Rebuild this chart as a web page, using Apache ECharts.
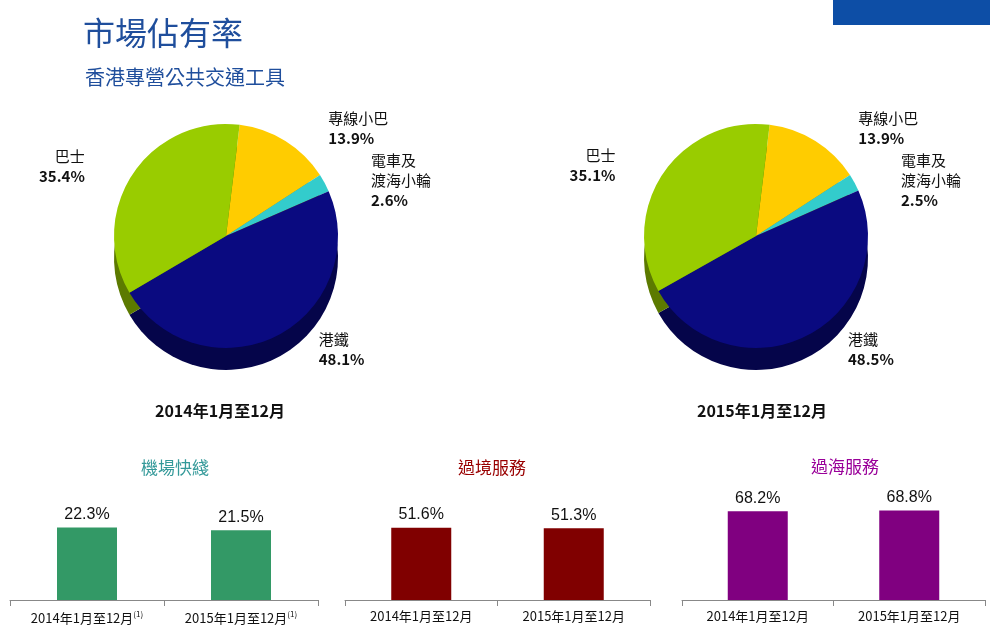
<!DOCTYPE html><html><head><meta charset="utf-8"><script src="https://cdn.jsdelivr.net/npm/echarts@6/dist/echarts.min.js"></script></head><body style="margin:0"><div id="c" style="width:990px;height:630px"></div><script>
const pieNames=['專線小巴','電車及\n渡海小輪','港鐵','巴士'];
const pie2014=[13.9,2.6,48.1,35.4];
const pie2015=[13.9,2.5,48.5,35.1];
const pieColors=['#ffcc00','#33cccc','#0a0a80','#99cc00'];
const darkColors=['#b38f00','#249090','#05054a','#5c7a00'];
const barCats=['2014年1月至12月','2015年1月至12月'];
const airport=[22.3,21.5];
const crossBoundary=[51.6,51.3];
const crossHarbour=[68.2,68.8];
const F='"Noto Sans CJK TC",sans-serif';
const ch=echarts.init(document.getElementById('c'));
function pies(vals,cx){
 return [{type:'pie',silent:true,center:[cx,258],radius:112,startAngle:83,label:{show:false},labelLine:{show:false},
   data:vals.map((v,i)=>({value:v,itemStyle:{color:darkColors[i]}}))},
  {type:'pie',center:[cx,236],radius:112,startAngle:83,labelLine:{show:false},
   label:{position:'outside',distance:10,fontFamily:F,fontSize:15,color:'#111',lineHeight:20,
     formatter:p=>p.name+'\n{b|'+p.value.toFixed(1)+'%}',rich:{b:{fontWeight:'bold',fontSize:15,fontFamily:F,color:'#111'}}},
   data:vals.map((v,i)=>({value:v,name:pieNames[i],itemStyle:{color:pieColors[i]}}))}];
}
const gl=[[10,318],[345,650],[682,985]];
const maxes=[40,93,100];
const barData=[airport,crossBoundary,crossHarbour];
const barColors=['#339966','#800000','#800080'];
const grids=gl.map(g=>({left:g[0],width:g[1]-g[0],top:470,height:130}));
const xAxes=gl.map((g,i)=>({gridIndex:i,type:'category',data:barCats,axisLine:{lineStyle:{color:'#888'}},axisTick:{show:true,alignWithLabel:false,length:6,lineStyle:{color:'#888'}},
 axisLabel:{interval:0,hideOverlap:false,color:'#111',fontFamily:F,fontSize:13,margin:10,formatter:v=>i===0?v+'{s|(1)}':v,rich:{s:{fontSize:8,verticalAlign:'top',padding:[0,0,8,0]}}}}));
const yAxes=gl.map((g,i)=>({gridIndex:i,type:'value',min:0,max:maxes[i],show:false,splitLine:{show:false}}));
const bars=barData.map((d,i)=>({type:'bar',xAxisIndex:i,yAxisIndex:i,data:d,barWidth:60,itemStyle:{color:barColors[i]},
 label:{show:true,position:'top',formatter:p=>p.value.toFixed(1)+'%',fontSize:16,color:'#111',fontFamily:'Arial,Liberation Sans'}}));
ch.setOption({animation:false,
 title:[{text:'市場佔有率',left:78,top:12,textStyle:{color:'#1f4e9c',fontSize:32,fontWeight:'normal',fontFamily:F}},
  {text:'香港專營公共交通工具',left:80,top:62,textStyle:{color:'#1f4e9c',fontSize:20,fontWeight:'normal',fontFamily:F}},
  {text:'2014年1月至12月',left:215,top:398,textAlign:'center',textStyle:{fontSize:16,fontWeight:'bold',color:'#111',fontFamily:F}},
  {text:'2015年1月至12月',left:757,top:398,textAlign:'center',textStyle:{fontSize:16,fontWeight:'bold',color:'#111',fontFamily:F}},
  {text:'機場快綫',left:170,top:454,textAlign:'center',textStyle:{fontSize:17,fontWeight:'normal',color:'#339999',fontFamily:F}},
  {text:'過境服務',left:487,top:454,textAlign:'center',textStyle:{fontSize:17,fontWeight:'normal',color:'#990000',fontFamily:F}},
  {text:'過海服務',left:840,top:453,textAlign:'center',textStyle:{fontSize:17,fontWeight:'normal',color:'#990099',fontFamily:F}}],
 graphic:[{type:'rect',shape:{x:833,y:0,width:157,height:25},style:{fill:'#0d4ea6'}}],
 grid:grids,xAxis:xAxes,yAxis:yAxes,
 series:[...pies(pie2014,226),...pies(pie2015,756),...bars]});
</script></body></html>
